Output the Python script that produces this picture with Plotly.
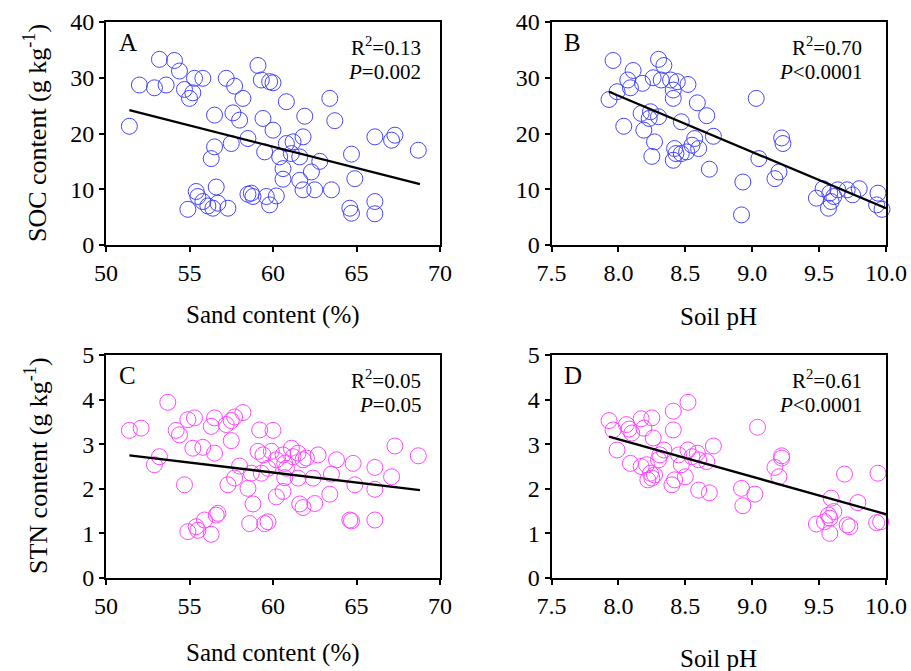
import plotly.graph_objects as go

# ---------------- data ----------------
sand_A = [51.4, 52.0, 52.9, 53.2, 53.6, 54.1, 54.4, 54.7, 55.0, 55.2, 55.3, 55.8, 56.5, 56.3, 56.5,
          57.2, 57.7, 58.2, 57.6, 58.0, 57.5, 58.5, 59.1, 59.3, 59.8, 60.0, 59.4, 60.0, 59.5, 60.4,
          60.6, 60.6, 60.8, 60.8, 61.2, 61.1, 61.6, 61.8, 61.6, 61.8, 61.9, 62.3, 62.8, 62.5, 63.4,
          63.7, 63.5, 64.7, 64.9, 64.6, 64.7, 66.1, 67.1, 67.3, 66.1, 66.1, 68.7, 54.9, 55.4, 55.5,
          55.8, 56.1, 56.4, 56.6, 56.7, 57.3, 58.5, 58.7, 58.8, 59.6, 59.8, 60.2]
soc_A = [21.3, 28.7, 28.2, 33.3, 28.7, 33.1, 31.2, 27.9, 26.3, 27.3, 29.9, 29.9, 23.3, 15.5, 17.6,
         29.9, 28.5, 26.3, 23.7, 22.4, 18.2, 19.1, 32.2, 29.6, 29.3, 29.1, 22.7, 20.6, 16.7, 15.8,
         13.7, 11.8, 25.7, 18.2, 18.5, 16.4, 15.8, 19.4, 11.6, 9.9, 23.1, 13.1, 15.0, 9.9, 26.3,
         22.3, 9.9, 16.3, 11.9, 6.6, 5.7, 19.4, 18.8, 19.7, 7.8, 5.6, 17.0, 6.4, 9.6, 8.7,
         7.8, 7.0, 6.6, 10.4, 7.5, 6.6, 9.1, 9.3, 8.7, 8.7, 7.2, 8.8]

ph_B = [7.96, 7.93, 7.99, 8.04, 8.11, 8.07, 8.09, 8.18, 8.17, 8.19, 8.23, 8.27, 8.25, 8.30, 8.34,
        8.26, 8.32, 8.39, 8.44, 8.41, 8.41, 8.30, 8.24, 8.47, 8.52, 8.59, 8.66, 8.71, 8.57, 8.55,
        8.42, 8.43, 8.41, 8.47, 8.51, 8.60, 8.68, 9.03, 9.05, 8.93, 8.92, 9.22, 9.23, 9.20, 9.17,
        9.48, 9.53, 9.58, 9.59, 9.57, 9.64, 9.71, 9.75, 9.80, 9.94, 9.93, 9.97, 9.61]
soc_B = [33.1, 26.1, 27.5, 21.3, 31.3, 29.6, 28.2, 29.0, 23.6, 20.6, 22.7, 18.5, 15.9, 33.3, 32.2,
         30.0, 29.6, 29.6, 29.3, 27.8, 26.3, 23.0, 23.9, 22.1, 28.8, 25.5, 23.2, 19.5, 19.1, 17.9,
         17.3, 16.4, 15.2, 16.4, 16.7, 17.3, 13.6, 26.3, 15.5, 11.3, 5.4, 19.2, 18.2, 13.1, 11.9,
         8.4, 10.1, 9.3, 7.8, 6.6, 9.9, 9.9, 9.0, 10.1, 9.3, 7.2, 6.4, 8.7]

sand_C = [51.4, 52.1, 52.9, 53.2, 53.7, 54.2, 54.4, 54.7, 54.9, 55.3, 55.2, 55.8, 56.5, 56.3, 56.5,
          57.2, 57.5, 57.7, 58.2, 57.5, 58.0, 57.7, 57.3, 58.7, 58.5, 58.8, 59.2, 60.0, 59.1, 59.4,
          59.9, 59.3, 59.7, 60.2, 60.6, 60.7, 60.8, 61.1, 61.2, 61.5, 61.8, 62.0, 60.7, 60.6, 60.2,
          61.5, 62.4, 62.7, 61.6, 61.8, 62.5, 63.4, 63.8, 63.5, 64.8, 64.9, 66.1, 66.1, 67.1, 67.3,
          68.7, 64.6, 64.7, 66.1, 58.6, 59.5, 59.7, 54.9, 55.4, 55.5, 55.9, 56.3, 56.6, 56.7]
stn_C = [3.31, 3.36, 2.54, 2.72, 3.94, 3.31, 3.21, 2.09, 3.55, 3.59, 2.91, 2.93, 3.59, 3.40, 2.80,
         3.44, 3.53, 3.61, 3.71, 3.08, 2.51, 2.24, 2.09, 2.35, 2.01, 1.66, 3.32, 3.31, 2.84, 2.76,
         2.84, 2.35, 2.46, 2.65, 2.76, 2.57, 2.46, 2.91, 2.72, 2.80, 2.65, 2.69, 2.25, 1.94, 1.82,
         2.24, 2.24, 2.76, 1.66, 1.58, 1.67, 1.88, 2.65, 2.33, 2.57, 2.09, 2.48, 1.99, 2.27, 2.96,
         2.74, 1.30, 1.28, 1.30, 1.22, 1.22, 1.26, 1.04, 1.15, 1.07, 1.30, 0.98, 1.41, 1.45]

ph_D = [7.93, 7.96, 7.99, 8.06, 8.08, 8.10, 8.17, 8.19, 8.25, 8.26, 8.09, 8.17, 8.21, 8.24, 8.25,
        8.27, 8.22, 8.31, 8.34, 8.30, 8.41, 8.41, 8.52, 8.40, 8.42, 8.50, 8.45, 8.47, 8.52, 8.55,
        8.59, 8.60, 8.66, 8.71, 8.60, 8.68, 9.04, 8.92, 9.02, 8.93, 9.22, 9.22, 9.17, 9.20, 9.69,
        9.94, 9.59, 9.79, 9.61, 9.57, 9.54, 9.48, 9.58, 9.73, 9.71, 9.96, 9.93, 9.58]
stn_D = [3.53, 3.32, 2.87, 3.44, 3.34, 3.25, 3.57, 3.36, 3.59, 3.14, 2.57, 2.50, 2.54, 2.35, 2.24,
         2.31, 2.20, 2.76, 2.87, 2.65, 3.74, 3.32, 3.94, 2.09, 2.20, 2.27, 2.76, 2.54, 2.87, 2.72,
         2.80, 2.65, 2.61, 2.96, 1.97, 1.91, 3.38, 2.01, 1.88, 1.62, 2.74, 2.69, 2.48, 2.27, 2.33,
         2.35, 1.79, 1.69, 1.49, 1.41, 1.26, 1.21, 1.00, 1.15, 1.19, 1.26, 1.24, 1.34]

# regression line end points
fit_A_x = [51.4, 68.8]
fit_A_y = [24.2, 10.9]
fit_B_x = [7.93, 10.0]
fit_B_y = [27.5, 6.6]
fit_C_x = [51.4, 68.8]
fit_C_y = [2.75, 1.97]
fit_D_x = [7.93, 10.0]
fit_D_y = [3.17, 1.43]

panel_letters = ["A", "B", "C", "D"]
stats_r2 = ["R<sup>2</sup>=0.13", "R<sup>2</sup>=0.70", "R<sup>2</sup>=0.05", "R<sup>2</sup>=0.61"]
stats_p = ["<i>P</i>=0.002", "<i>P</i><0.0001", "<i>P</i>=0.05", "<i>P</i><0.0001"]
x_titles = ["Sand content (%)", "Soil pH", "Sand content (%)", "Soil pH"]
y_titles = ["SOC content (g kg<sup>-1</sup>)", "STN content (g kg<sup>-1</sup>)"]

# ---------------- figure ----------------
W, H = 911, 671
FONT = "Liberation Serif, Times New Roman, serif"
BLUE = "#4646ff"
MAG = "#ff46ff"

def px(x):
    return x / W

def py(y):
    return 1 - y / H

xdom = [[px(106), px(440)], [px(551.5), px(886)]]
ydom = [[py(245), py(22)], [py(578), py(355)]]

fig = go.Figure()

panels = [
    (sand_A, soc_A, fit_A_x, fit_A_y, BLUE, "x", "y"),
    (ph_B, soc_B, fit_B_x, fit_B_y, BLUE, "x2", "y2"),
    (sand_C, stn_C, fit_C_x, fit_C_y, MAG, "x3", "y3"),
    (ph_D, stn_D, fit_D_x, fit_D_y, MAG, "x4", "y4"),
]

for xs, ys, fx, fy, col, xa, ya in panels:
    fig.add_trace(go.Scatter(x=xs, y=ys, mode="markers", xaxis=xa, yaxis=ya,
                             marker=dict(symbol="circle-open", size=16, color=col,
                                         line=dict(width=1, color=col)),
                             showlegend=False, cliponaxis=False))
    fig.add_trace(go.Scatter(x=fx, y=fy, mode="lines", xaxis=xa, yaxis=ya,
                             line=dict(color="black", width=2.3), showlegend=False))

axis_common = dict(showline=True, linecolor="black", linewidth=1.8, mirror=True,
                   ticks="outside", ticklen=5, tickwidth=1.5, tickcolor="black",
                   showgrid=False, zeroline=False, automargin=False,
                   tickfont=dict(family=FONT, size=24, color="black"))

sand_axis = dict(range=[50, 70], tickvals=[50, 55, 60, 65, 70], **axis_common)
ph_axis = dict(range=[7.5, 10.0], tickvals=[7.5, 8.0, 8.5, 9.0, 9.5, 10.0],
               ticktext=["7.5", "8.0", "8.5", "9.0", "9.5", "10.0"], **axis_common)
soc_axis = dict(range=[0, 40], tickvals=[0, 10, 20, 30, 40], **axis_common)
stn_axis = dict(range=[0, 5], tickvals=[0, 1, 2, 3, 4, 5], **axis_common)

fig.update_layout(
    width=W, height=H,
    margin=dict(l=0, r=0, t=0, b=0, autoexpand=False),
    paper_bgcolor="white", plot_bgcolor="white",
    font=dict(family=FONT, color="black"),
    xaxis=dict(domain=xdom[0], anchor="y", **sand_axis),
    yaxis=dict(domain=ydom[0], anchor="x", **soc_axis),
    xaxis2=dict(domain=xdom[1], anchor="y2", **ph_axis),
    yaxis2=dict(domain=ydom[0], anchor="x2", **soc_axis),
    xaxis3=dict(domain=xdom[0], anchor="y3", **sand_axis),
    yaxis3=dict(domain=ydom[1], anchor="x3", **stn_axis),
    xaxis4=dict(domain=xdom[1], anchor="y4", **ph_axis),
    yaxis4=dict(domain=ydom[1], anchor="x4", **stn_axis),
)

ann = []
letter_pos = [(117, 42), (562, 42), (117, 375), (562, 375)]
stat_pos = [(423, 47, 72), (864, 47, 72), (423, 379, 405), (864, 379, 405)]
for i in range(4):
    lx, ly = letter_pos[i]
    ann.append(dict(x=px(lx), y=py(ly), xref="paper", yref="paper", text=panel_letters[i],
                    showarrow=False, xanchor="left", yanchor="middle",
                    font=dict(family=FONT, size=25, color="black")))
    sx, sy1, sy2 = stat_pos[i]
    ann.append(dict(x=px(sx), y=py(sy1), xref="paper", yref="paper", text=stats_r2[i],
                    showarrow=False, xanchor="right", yanchor="middle",
                    font=dict(family=FONT, size=21, color="black")))
    ann.append(dict(x=px(sx), y=py(sy2), xref="paper", yref="paper", text=stats_p[i],
                    showarrow=False, xanchor="right", yanchor="middle",
                    font=dict(family=FONT, size=21, color="black")))

xt_pos = [(273, 315), (718, 316), (273, 653), (718, 658)]
for i in range(4):
    tx, ty = xt_pos[i]
    ann.append(dict(x=px(tx), y=py(ty), xref="paper", yref="paper", text=x_titles[i],
                    showarrow=False, xanchor="center", yanchor="middle",
                    font=dict(family=FONT, size=25, color="black")))

yt_pos = [(36, 133), (36, 466)]
for i in range(2):
    tx, ty = yt_pos[i]
    ann.append(dict(x=px(tx), y=py(ty), xref="paper", yref="paper", text=y_titles[i],
                    showarrow=False, xanchor="center", yanchor="middle", textangle=-90,
                    font=dict(family=FONT, size=26, color="black")))

fig.update_layout(annotations=ann)

fig.write_html("out.html", config={"displayModeBar": False},
               post_script="document.body.style.margin='0';document.body.style.overflow='hidden';")
